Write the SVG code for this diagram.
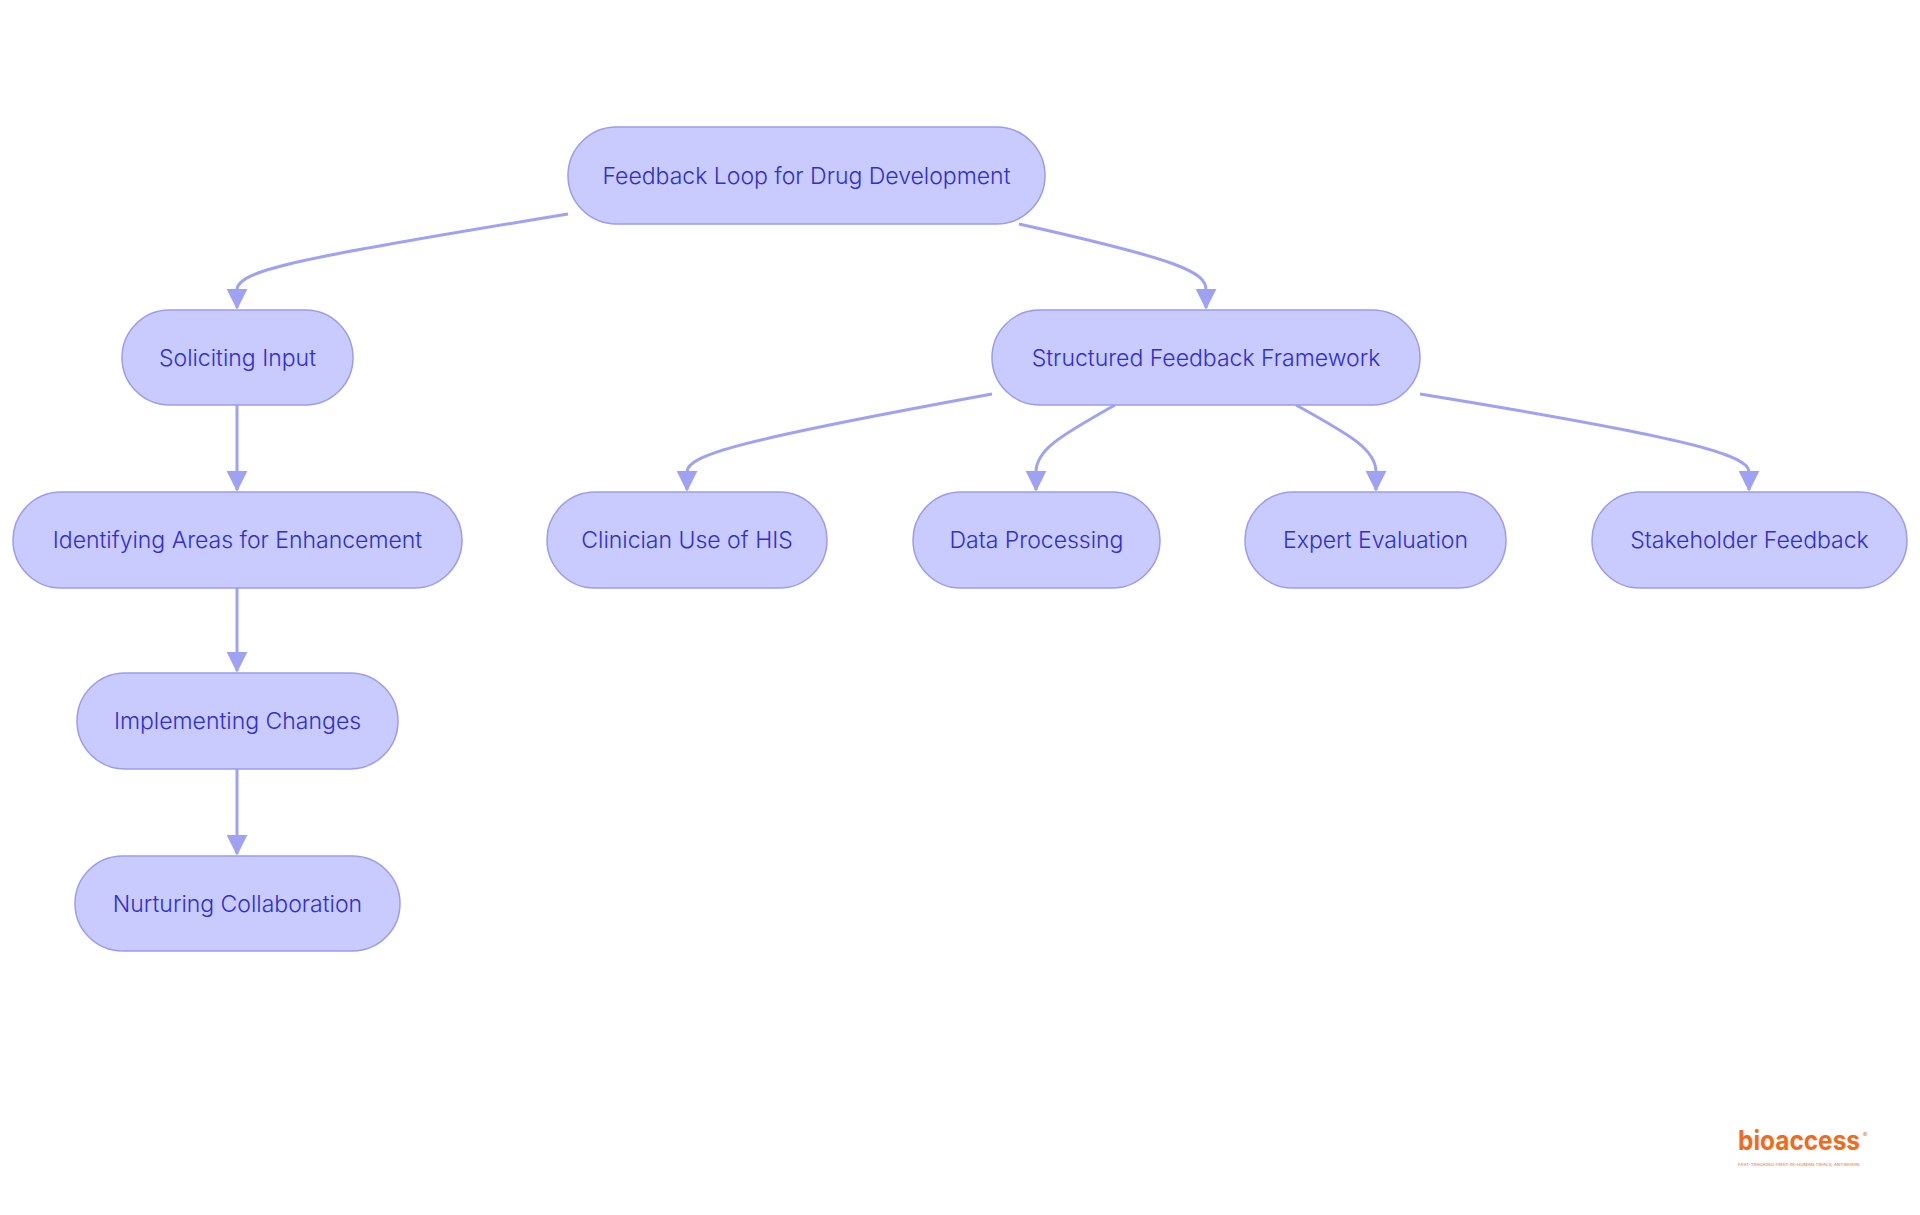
<svg xmlns="http://www.w3.org/2000/svg" width="1920" height="1215" viewBox="0 0 1920 1215">
<style>
.n rect{fill:#c9cafd;stroke:#9b9cef;stroke-width:1.5}
.n text{font-family:Inter,"Liberation Sans",sans-serif;font-size:23px;font-weight:300;fill:#2f2fcf;text-anchor:middle;dominant-baseline:central}
.e path{fill:none;stroke:#9fa1f2;stroke-width:3}
</style>
<defs><marker id="a" viewBox="0 0 12 12" refX="11" refY="6" markerWidth="7" markerHeight="7" markerUnits="strokeWidth" orient="auto"><path d="M0,0L12,6L0,12z" fill="#9fa1f2"/></marker></defs>
<rect width="1920" height="1215" fill="#fff"/>
<g class="e">
<path d="M568,214 C300,258 237,270 237,290 L237,308" marker-end="url(#a)"/>
<path d="M1019,224 C1180,260 1206,272 1206,290 L1206,308" marker-end="url(#a)"/>
<path d="M992,394 C740,440 687,455 687,472 L687,490" marker-end="url(#a)"/>
<path d="M1115,405 C1060,436 1036,450 1036,472 L1036,490" marker-end="url(#a)"/>
<path d="M1296,405 C1352,436 1376,450 1376,472 L1376,490" marker-end="url(#a)"/>
<path d="M1420,394 C1690,438 1749,455 1749,472 L1749,490" marker-end="url(#a)"/>
<path d="M237,405 L237,490" marker-end="url(#a)"/>
<path d="M237,588 L237,671" marker-end="url(#a)"/>
<path d="M237,769 L237,854" marker-end="url(#a)"/>
</g>
<g id="root" class="n"><rect x="568" y="127" width="477" height="97" rx="48.5"/><text x="806.5" y="175.5">Feedback Loop for Drug Development</text></g>
<g id="solicit" class="n"><rect x="122" y="310" width="231" height="95" rx="47.5"/><text x="237.5" y="357.5">Soliciting Input</text></g>
<g id="struct" class="n"><rect x="992" y="310" width="428" height="95" rx="47.5"/><text x="1206" y="357.5">Structured Feedback Framework</text></g>
<g id="ident" class="n"><rect x="13" y="492" width="449" height="96" rx="48"/><text x="237.5" y="540">Identifying Areas for Enhancement</text></g>
<g id="clin" class="n"><rect x="547" y="492" width="280" height="96" rx="48"/><text x="687" y="540">Clinician Use of HIS</text></g>
<g id="data" class="n"><rect x="913" y="492" width="247" height="96" rx="48"/><text x="1036.5" y="540">Data Processing</text></g>
<g id="expert" class="n"><rect x="1245" y="492" width="261" height="96" rx="48"/><text x="1375.5" y="540">Expert Evaluation</text></g>
<g id="stake" class="n"><rect x="1592" y="492" width="315" height="96" rx="48"/><text x="1749.5" y="540">Stakeholder Feedback</text></g>
<g id="impl" class="n"><rect x="77" y="673" width="321" height="96" rx="48"/><text x="237.5" y="721">Implementing Changes</text></g>
<g id="nurt" class="n"><rect x="75" y="856" width="325" height="95" rx="47.5"/><text x="237.5" y="903.5">Nurturing Collaboration</text></g>
<g id="logo" font-family="Inter,'Liberation Sans',sans-serif" fill="#f26b1d">
<text x="1738" y="1150" font-size="27" font-weight="bold" textLength="122" lengthAdjust="spacingAndGlyphs">bioaccess</text>
<text x="1863" y="1137" font-size="6">®</text>
<text x="1738" y="1166" font-size="4" textLength="122" lengthAdjust="spacingAndGlyphs">FAST-TRACKING FIRST-IN-HUMAN TRIALS, ANYWHERE</text>
</g>
</svg>
